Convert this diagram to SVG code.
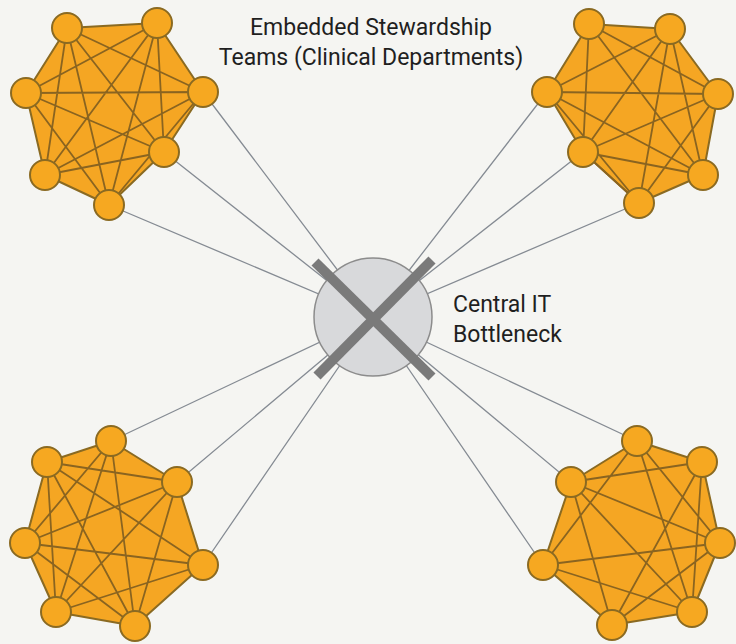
<svg xmlns="http://www.w3.org/2000/svg" width="736" height="644" viewBox="0 0 736 644">
<style>
.hull{fill:#f5a623;stroke:#8a6a22;stroke-width:2;stroke-linejoin:round}
.edge{fill:none;stroke:#8a6420;stroke-width:1.8}
.nd{fill:#f6a821;stroke:#8a6a22;stroke-width:2}
.conn{stroke:#858b93;stroke-width:1.3;fill:none}
.lbl{font-family:Roboto,"Liberation Sans",sans-serif;font-size:23px;fill:#1f1f1f}
.bar{stroke:#7a7a7a;stroke-width:10}
</style>
<rect width="736" height="644" fill="#f5f5f2"/>
<g id="connectors">
<path class="conn" d="M203 92L373 317M164 152L373 317M109 205L373 317M547 92L373 317M583 152L373 317M639 203L373 317M111 441L373 317M177 482L373 317M203 565L373 317M637 441L373 317M571 482L373 317M543 565L373 317"/>
</g>
<g id="team-top-left">
<polygon class="hull" points="67,28 157,23 203,92 164,152 109,205 45,175 26,93"/>
<path class="edge" d="M67 28L203 92M67 28L164 152M67 28L45 175M67 28L109 205M157 23L26 93M157 23L164 152M157 23L45 175M157 23L109 205M26 93L203 92M26 93L164 152M26 93L109 205M203 92L45 175M203 92L109 205M164 152L45 175"/>
<g>
<circle class="nd" cx="67" cy="28" r="15"/><circle class="nd" cx="157" cy="23" r="15"/><circle class="nd" cx="26" cy="93" r="15"/><circle class="nd" cx="203" cy="92" r="15"/><circle class="nd" cx="164" cy="152" r="15"/><circle class="nd" cx="45" cy="175" r="15"/><circle class="nd" cx="109" cy="205" r="15"/>
</g>
</g>
<g id="team-top-right">
<polygon class="hull" points="589,24 670,29 718,94 703,175 639,203 583,152 547,92"/>
<path class="edge" d="M589 24L718 94M589 24L703 175M589 24L583 152M670 29L547 92M670 29L583 152M670 29L639 203M670 29L703 175M547 92L718 94M547 92L639 203M718 94L583 152M718 94L639 203M583 152L703 175M583 152L639 203M703 175L547 92"/>
<g>
<circle class="nd" cx="589" cy="24" r="15"/><circle class="nd" cx="670" cy="29" r="15"/><circle class="nd" cx="547" cy="92" r="15"/><circle class="nd" cx="718" cy="94" r="15"/><circle class="nd" cx="583" cy="152" r="15"/><circle class="nd" cx="703" cy="175" r="15"/><circle class="nd" cx="639" cy="203" r="15"/>
</g>
</g>
<g id="team-bottom-left">
<polygon class="hull" points="47,462 111,441 177,482 203,565 135,626 56,612 25,543"/>
<path class="edge" d="M47 462L177 482M47 462L56 612M47 462L135 626M111 441L25 543M111 441L56 612M177 482L25 543M177 482L56 612M177 482L135 626M25 543L203 565M25 543L135 626M203 565L56 612M203 565L47 462M111 441L135 626"/>
<g>
<circle class="nd" cx="47" cy="462" r="15"/><circle class="nd" cx="111" cy="441" r="15"/><circle class="nd" cx="177" cy="482" r="15"/><circle class="nd" cx="25" cy="543" r="15"/><circle class="nd" cx="203" cy="565" r="15"/><circle class="nd" cx="56" cy="612" r="15"/><circle class="nd" cx="135" cy="626" r="15"/>
</g>
</g>
<g id="team-bottom-right">
<polygon class="hull" points="637,441 702,462 720,543 692,612 612,625 543,565 571,482"/>
<path class="edge" d="M571 482L702 462M571 482L720 543M571 482L692 612M571 482L612 625M637 441L692 612M637 441L720 543M702 462L612 625M702 462L692 612M543 565L720 543M543 565L692 612M720 543L612 625M637 441L543 565"/>
<g>
<circle class="nd" cx="637" cy="441" r="15"/><circle class="nd" cx="702" cy="462" r="15"/><circle class="nd" cx="571" cy="482" r="15"/><circle class="nd" cx="720" cy="543" r="15"/><circle class="nd" cx="543" cy="565" r="15"/><circle class="nd" cx="692" cy="612" r="15"/><circle class="nd" cx="612" cy="625" r="15"/>
</g>
</g>
<g id="central-it">
<circle cx="373" cy="317" r="59" fill="#d8d9db" stroke="#8c8c8c" stroke-width="1.5"/>
<line class="bar" x1="315" y1="262" x2="432" y2="377"/>
<line class="bar" x1="432" y1="260" x2="317" y2="376"/>
</g>
<g id="labels">
<text class="lbl" x="371" y="35" text-anchor="middle">Embedded Stewardship</text>
<text class="lbl" x="371" y="65" text-anchor="middle">Teams (Clinical Departments)</text>
<text class="lbl" x="453" y="312">Central IT</text>
<text class="lbl" x="453" y="342">Bottleneck</text>
</g>
</svg>
